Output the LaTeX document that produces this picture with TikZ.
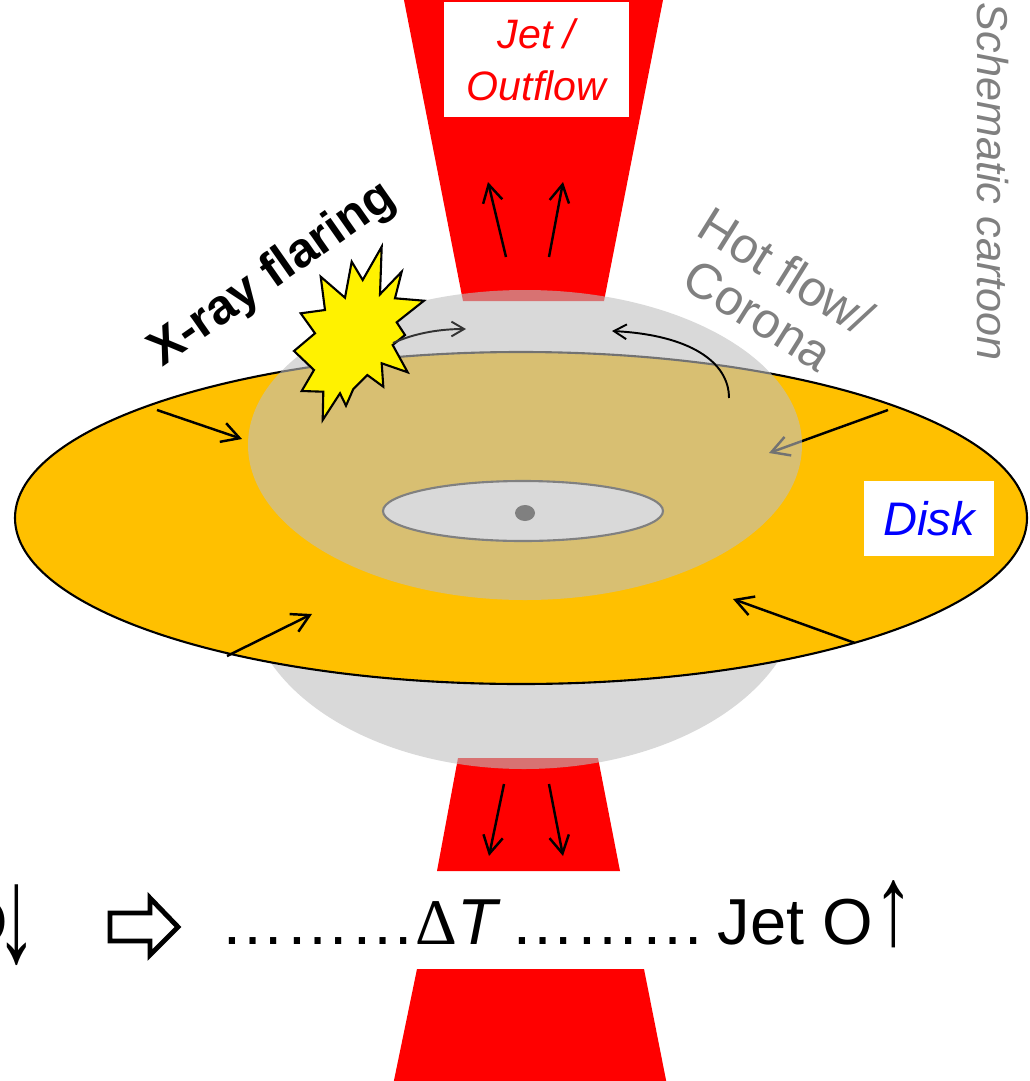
\documentclass[tikz,border=0pt]{standalone}
\usepackage{fontspec}
\setmainfont{Liberation Sans}
\newfontfamily\symbolfont{Liberation Serif}
\usetikzlibrary{arrows.meta}

\definecolor{diskorange}{RGB}{255,192,0}
\definecolor{flowgray}{RGB}{191,191,191}
\definecolor{holegray}{RGB}{217,217,217}
\definecolor{labelgray}{RGB}{128,128,128}

\begin{document}
\begin{tikzpicture}[x=0.1mm, y=-0.1mm,
  hotflow/.style={fill=flowgray, fill opacity=0.6, draw=none},
  flowarrow/.style={-{Straight Barb[length=5pt,width=5.6pt]}, line width=0.7pt},
  swirl/.style={-{Straight Barb[length=3.6pt,width=4.2pt]}, line width=0.55pt},
  rotlabel/.style={anchor=base west, inner sep=0pt},
  bigtext/.style={inner sep=0pt, font=\fontsize{18.5}{22}\selectfont}]
  \useasboundingbox (0,0) rectangle (1029,1081);
  \clip (0,0) rectangle (1029,1081);

  % jet / outflow, both sides
  \fill[red] (403,-5) -- (664,-5) -- (604,301) -- (463,301) -- cycle;
  \fill[red] (458,758) -- (598,758) -- (620,871) -- (437,871) -- cycle;
  \fill[red] (417,969) -- (644,969) -- (668,1090) -- (392,1090) -- cycle;

  % hot flow below the disk
  \fill[hotflow] (524,590) ellipse [x radius=277, y radius=179];

  % the disk
  \draw[fill=diskorange, line width=0.6pt] (521,518) ellipse [x radius=506, y radius=166];

  % inflow through the disk
  \coordinate (in1) at (157,410);  \coordinate (in1e) at (242,439);
  \coordinate (in2) at (227,656);  \coordinate (in2e) at (312,614);
  \coordinate (in3) at (855,643);  \coordinate (in3e) at (733,599);
  \coordinate (in4) at (888,410);  \coordinate (in4e) at (769,453);
  \draw[flowarrow] (in1) -- (in1e);
  \draw[flowarrow] (in2) -- (in2e);
  \draw[flowarrow] (in3) -- (in3e);
  \draw[flowarrow] (in4) -- (in4e);

  % hot flow above the disk
  \fill[hotflow] (525,445) ellipse [x radius=277, y radius=155];

  % inner hole and black hole
  \draw[fill=holegray, draw=labelgray, line width=0.6pt] (523,511) ellipse [x radius=140, y radius=30];
  \fill[labelgray] (525,513) ellipse [x radius=10, y radius=8];

  % jet arrows
  \coordinate (up1) at (506,257);  \coordinate (up1e) at (488,182);
  \coordinate (up2) at (549,257);  \coordinate (up2e) at (563,182);
  \coordinate (dn1) at (504,784);  \coordinate (dn1e) at (489,856);
  \coordinate (dn2) at (549,784);  \coordinate (dn2e) at (563,856);
  \draw[flowarrow] (up1) -- (up1e);
  \draw[flowarrow] (up2) -- (up2e);
  \draw[flowarrow] (dn1) -- (dn1e);
  \draw[flowarrow] (dn2) -- (dn2e);

  % flare
  \draw[fill=yellow, line width=0.6pt, miter limit=20]
    (381.7,246.7) -- (362.7,280) -- (351.7,261.7) -- (345,297.7) -- (320.7,276.7)
    -- (325,310) -- (300.7,313.3) -- (315,333.3) -- (294,351) -- (314,370)
    -- (301.7,391) -- (323.3,391.7) -- (322.7,420) -- (340,393.3) -- (346,405.7)
    -- (353.3,389) -- (367.3,375) -- (383.3,386.7) -- (381.7,363.3) -- (407.7,372.3)
    -- (392.7,345) -- (405,335) -- (396.7,322.3) -- (424,300.7) -- (395,298.3)
    -- (401.7,271.7) -- (380,294.3) -- cycle;

  % circulation in the corona
  \coordinate (sw1) at (393,343);  \coordinate (sw1e) at (466,329);
  \coordinate (sw2) at (729,398);  \coordinate (sw2e) at (612,331);
  \draw[swirl, black!80] (sw1) .. controls (415,333) and (440,329) .. (sw1e);
  \draw[swirl] (sw2) .. controls (729,362) and (690,335) .. (sw2e);

  % labels
  \node[fill=white, text=red, font=\itshape\fontsize{11.7}{14.8}\selectfont, align=center,
        minimum width=18.5mm, minimum height=11.5mm, inner sep=0pt] (jet) at (536.5,59.5) {Jet /\\Outflow};
  \node[fill=white, text=blue, font=\itshape\fontsize{13.4}{16}\selectfont,
        minimum width=13mm, minimum height=7.5mm, inner sep=0pt] (disk) at (929,518.5) {Disk};
  \node[rotlabel, text=labelgray, font=\fontsize{14.2}{17}\selectfont, rotate=-32] (hot) at (694,234) {Hot flow/};
  \node[rotlabel, text=labelgray, font=\fontsize{14.2}{17}\selectfont, rotate=-32] (corona) at (679,286) {Corona};
  \node[rotlabel, text=labelgray, font=\itshape\fontsize{12.3}{14}\selectfont, rotate=-90] (cartoon) at (977,2) {Schematic cartoon};
  \node[rotlabel, font=\bfseries\fontsize{14}{16}\selectfont, rotate=35] (flare) at (162,368) {X-ray flaring};

  % bottom line
  \node[bigtext, anchor=base east] (before) at (9,944) {O};
  \node[bigtext, anchor=base] (drop) at (17,944) {\raisebox{-5pt}{\scalebox{1.25}[2.1]{↓}}};
  \draw[line width=1.4pt, miter limit=20] (110,913) -- (150,913) -- (150,898) -- (178,927)
    -- (150,955) -- (150,941) -- (110,941) -- cycle;
  \node[bigtext, anchor=base west] (dots1) at (219.5,944) {………{\symbolfont Δ}\textit{T}};
  \node[bigtext, anchor=base west] (dots2) at (510,944) {………};
  \node[bigtext, anchor=base west] (jetup) at (717,944) {Jet O\scalebox{1.25}[1.75]{↑}};
\end{tikzpicture}
\end{document}
